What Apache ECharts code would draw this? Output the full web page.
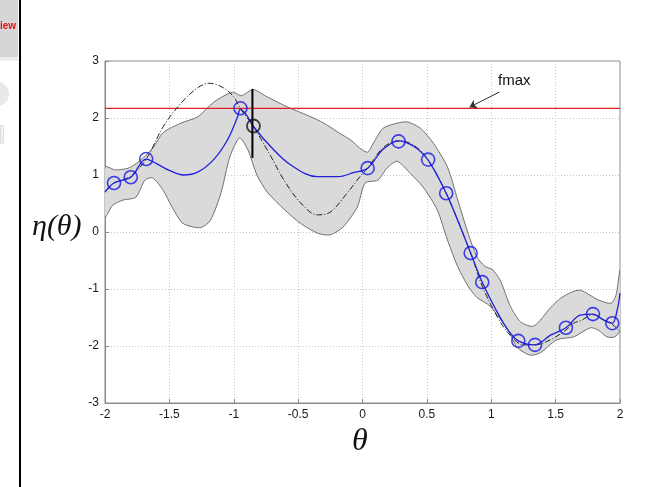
<!DOCTYPE html>
<html>
<head>
<meta charset="utf-8">
<script src="https://cdn.jsdelivr.net/npm/echarts@6/dist/echarts.min.js"></script>
<style>
html,body{margin:0;padding:0;background:#fff;}
#main{width:665px;height:487px;}
</style>
</head>
<body>
<div id="main"></div>
<script>
// GP posterior mean (blue)
var meanX = [-2.0,-1.93,-1.80,-1.68,-1.60,-1.50,-1.39,-1.28,-1.16,-1.05,-0.97,-0.95,-0.90,-0.85,-0.71,-0.56,-0.35,-0.19,-0.07,0.04,0.16,0.28,0.40,0.51,0.65,0.74,0.84,0.93,1.05,1.13,1.21,1.34,1.46,1.58,1.69,1.79,1.87,1.94,1.98,2.0];
var meanY = [0.70,0.86,0.96,1.28,1.20,1.08,1.00,1.05,1.26,1.61,2.02,2.15,2.05,1.86,1.49,1.18,0.97,0.97,1.04,1.12,1.45,1.60,1.50,1.26,0.68,0.20,-0.37,-0.88,-1.42,-1.72,-1.91,-1.98,-1.81,-1.68,-1.46,-1.44,-1.54,-1.60,-1.35,-1.07];
// true function (dash-dot)
var trueX = [-2.0,-1.93,-1.80,-1.68,-1.55,-1.41,-1.28,-1.19,-1.08,-1.00,-0.95,-0.85,-0.71,-0.61,-0.48,-0.35,-0.25,-0.12,-0.02,0.04,0.16,0.28,0.40,0.51,0.65,0.84,0.93,1.05,1.15,1.25,1.34,1.46,1.58,1.64,1.70,1.79,1.88,1.94,2.0];
var trueY = [0.70,0.86,0.98,1.28,1.84,2.26,2.53,2.61,2.53,2.37,2.17,1.86,1.32,0.91,0.51,0.30,0.35,0.68,0.97,1.12,1.48,1.60,1.52,1.26,0.68,-0.37,-0.95,-1.50,-1.82,-1.98,-1.98,-1.89,-1.72,-1.60,-1.55,-1.45,-1.55,-1.62,-1.75];
// observed samples
var obsX = [-1.93,-1.80,-1.68,-0.948,0.04,0.28,0.51,0.65,0.84,0.93,1.21,1.34,1.58,1.79,1.94];
var obsY = [0.86,0.96,1.28,2.17,1.12,1.59,1.27,0.68,-0.37,-0.88,-1.91,-1.98,-1.68,-1.44,-1.60];
// confidence band
var upX = [-2.00,-1.92,-1.82,-1.74,-1.63,-1.55,-1.41,-1.28,-1.16,-1.05,-1.00,-0.94,-0.85,-0.74,-0.58,-0.42,-0.30,-0.19,-0.09,-0.02,0.04,0.085,0.16,0.27,0.35,0.45,0.55,0.66,0.74,0.82,0.89,0.95,1.01,1.07,1.15,1.23,1.33,1.46,1.54,1.62,1.69,1.76,1.83,1.93,1.97,2.00];
var upY = [1.14,1.09,1.12,1.23,1.47,1.74,1.91,2.02,2.27,2.42,2.45,2.39,2.50,2.37,2.19,2.04,1.91,1.75,1.61,1.47,1.40,1.56,1.82,1.91,1.93,1.82,1.56,1.14,0.56,-0.02,-0.44,-0.60,-0.66,-0.85,-1.31,-1.58,-1.65,-1.33,-1.16,-1.06,-1.02,-1.10,-1.19,-1.25,-1.10,-0.67];
var loX = [-2.00,-1.94,-1.86,-1.76,-1.69,-1.63,-1.55,-1.48,-1.40,-1.32,-1.25,-1.18,-1.10,-1.03,-0.955,-0.89,-0.82,-0.74,-0.61,-0.48,-0.35,-0.25,-0.15,-0.04,0.02,0.12,0.19,0.27,0.37,0.47,0.58,0.66,0.74,0.82,0.89,0.99,1.13,1.20,1.30,1.38,1.51,1.64,1.77,1.83,1.90,1.96,2.00];
var loY = [0.26,0.47,0.56,0.61,0.91,0.95,0.74,0.44,0.16,0.09,0.08,0.21,0.68,1.32,1.65,1.44,1.00,0.70,0.40,0.15,-0.02,-0.05,0.09,0.44,0.86,0.91,1.12,1.24,1.03,0.79,0.39,-0.14,-0.61,-0.95,-1.15,-1.30,-1.72,-2.02,-2.16,-2.12,-1.89,-1.84,-1.68,-1.72,-1.84,-1.84,-1.72];
// next query point and fmax level
var queryX = [-0.847];
var queryY = [1.86];
var queryBarY = [1.30, 2.51];
var fmax = 2.17;
var xTicks = [-2, 2, 0.5];
var yTicks = [-3, 3, 1];

function zip(a, b) {
    var out = [];
    for (var i = 0; i < a.length; i++) out.push([a[i], b[i]]);
    return out;
}

var chart = echarts.init(document.getElementById('main'));
var labelFont = {color: '#1a1a1a', fontSize: 12, fontFamily: 'Liberation Sans, Arial, sans-serif'};
var gridLine = {show: true, lineStyle: {color: '#c8c8c8', type: [1, 2], width: 1}};

var option = {
    animation: false,
    grid: {left: 105, right: 45, top: 61, bottom: 84, show: true, borderColor: '#8a8a8a', borderWidth: 1},
    xAxis: {
        type: 'value', min: xTicks[0], max: xTicks[1], interval: xTicks[2],
        axisLine: {onZero: false, lineStyle: {color: '#8a8a8a'}},
        axisTick: {inside: true, length: 4, lineStyle: {color: '#8a8a8a'}},
        axisLabel: Object.assign({margin: 6}, labelFont),
        splitLine: gridLine
    },
    yAxis: {
        type: 'value', min: yTicks[0], max: yTicks[1], interval: yTicks[2],
        axisLine: {show: true, onZero: false, lineStyle: {color: '#8a8a8a'}},
        axisTick: {show: true, inside: true, length: 4, lineStyle: {color: '#8a8a8a'}},
        axisLabel: Object.assign({margin: 6}, labelFont),
        splitLine: gridLine
    },
    series: [
        {
            type: 'custom',
            clip: true,
            data: [[0, 0]],
            silent: true,
            z: 1,
            renderItem: function(params, api) {
                var pts = [];
                for (var i = 0; i < upX.length; i++) pts.push(api.coord([upX[i], upY[i]]));
                for (var j = loX.length - 1; j >= 0; j--) pts.push(api.coord([loX[j], loY[j]]));
                return {
                    type: 'polygon',
                    shape: {points: pts, smooth: 0.25},
                    style: {fill: '#dadada', stroke: '#707070', lineWidth: 1}
                };
            }
        },
        {
            type: 'line', data: [[xTicks[0], fmax], [xTicks[1], fmax]],
            showSymbol: false, z: 3,
            lineStyle: {color: '#e02020', width: 1.2},
            markLine: {
                silent: true, symbol: ['none', 'arrow'], symbolSize: 7,
                label: {show: false},
                lineStyle: {color: '#333', width: 1, type: 'solid'},
                data: [[{coord: [1.064, 2.456]}, {coord: [0.831, 2.19]}]]
            }
        },
        {
            type: 'line', data: zip(trueX, trueY), smooth: 0.35,
            showSymbol: false, z: 4,
            lineStyle: {color: '#222', width: 1, type: [6, 2, 1, 2]}
        },
        {
            type: 'line', data: zip(meanX, meanY), smooth: 0.35,
            showSymbol: false, z: 5,
            lineStyle: {color: '#2020d8', width: 1.3}
        },
        {
            type: 'scatter', data: zip(obsX, obsY), z: 6,
            symbol: 'circle', symbolSize: 13,
            itemStyle: {color: 'transparent', borderColor: '#1515e6', borderWidth: 1.6}
        },
        {
            type: 'line', data: [[queryX[0] - 0.008, queryBarY[0]], [queryX[0] - 0.008, queryBarY[1]]],
            showSymbol: false, z: 6,
            lineStyle: {color: '#000', width: 2}
        },
        {
            type: 'scatter', data: zip(queryX, queryY), z: 7,
            symbol: 'circle', symbolSize: 13,
            itemStyle: {color: 'transparent', borderColor: '#111', borderWidth: 1.8}
        }
    ],
    graphic: [
        {type: 'rect', left: 0, top: 0, shape: {width: 18, height: 57}, style: {fill: '#d6d6d6'}},
        {type: 'text', left: 0, top: 21, style: {text: 'iew', fill: '#e01010', font: 'bold 10px Liberation Sans, Arial'}},
        {type: 'rect', left: 0, top: 57, shape: {width: 18, height: 4}, style: {fill: '#eeeeee'}},
        {type: 'circle', shape: {cx: -3, cy: 94, r: 12}, style: {fill: '#e8e8e8'}},
        {type: 'rect', left: 0, top: 125, shape: {width: 3, height: 18}, style: {fill: '#f2f2f2', stroke: '#dddddd'}},
        {type: 'rect', left: 19, top: 0, shape: {width: 2, height: 487}, style: {fill: '#000'}},
        {type: 'text', left: 498, top: 73, style: {text: 'fmax', fill: '#111', font: '15px Liberation Sans, Arial'}},
        {type: 'text', left: 32, top: 212, style: {text: 'η(θ)', fill: '#111', font: 'italic 30px Liberation Serif, Times New Roman, serif'}},
        {type: 'text', left: 352, top: 426, style: {text: 'θ', fill: '#111', font: 'italic 32px Liberation Serif, Times New Roman, serif'}}
    ]
};

option && chart.setOption(option);
</script>
</body>
</html>
